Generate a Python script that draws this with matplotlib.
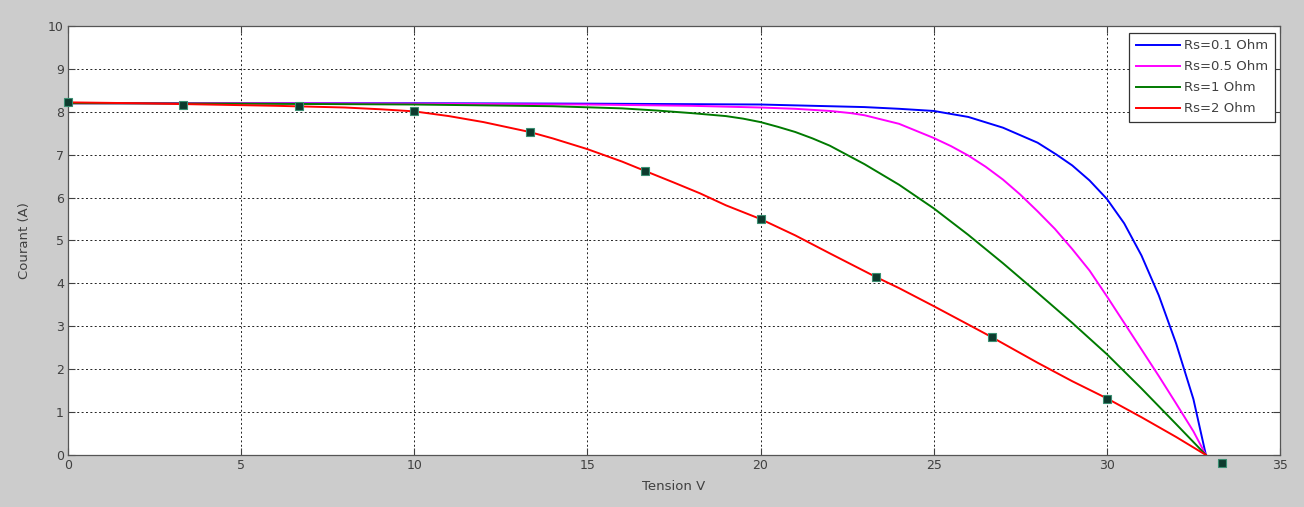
import matplotlib
matplotlib.use("Agg")
import matplotlib.pyplot as plt

plt.rcParams['font.family'] = ['DejaVu Sans']

# Rs = 0.1 Ohm
blue_v = [0, 5, 10, 15, 20, 22, 23, 24, 25, 26, 27, 28, 28.55, 29, 29.5, 30, 30.5, 31, 31.5, 32, 32.5, 32.86]
blue_i = [8.2, 8.2, 8.2, 8.19, 8.17, 8.13, 8.11, 8.07, 8.02, 7.88, 7.63, 7.28, 7.0, 6.75, 6.4, 5.97, 5.4, 4.65, 3.72, 2.6, 1.3, 0.0]
# Rs = 0.5 Ohm
mag_v = [0, 5, 10, 15, 18, 20, 21, 22, 22.6, 23, 24, 25, 25.5, 26, 26.5, 27, 27.5, 28, 28.5, 29, 29.5, 30, 30.5, 31, 31.5, 32, 32.5, 32.86]
mag_i = [8.2, 8.2, 8.19, 8.17, 8.14, 8.1, 8.07, 8.02, 7.97, 7.92, 7.72, 7.39, 7.2, 6.98, 6.72, 6.42, 6.07, 5.68, 5.27, 4.8, 4.3, 3.7, 3.08, 2.46, 1.84, 1.2, 0.55, 0.0]
# Rs = 1 Ohm
green_v = [0, 5, 10, 14, 16, 17, 18, 19, 19.5, 20, 20.5, 21, 21.5, 22, 23, 24, 25, 26, 27, 28, 29, 30, 31, 32, 32.86]
green_i = [8.2, 8.19, 8.17, 8.13, 8.08, 8.03, 7.97, 7.9, 7.84, 7.76, 7.65, 7.53, 7.38, 7.21, 6.78, 6.3, 5.75, 5.13, 4.47, 3.78, 3.08, 2.35, 1.55, 0.72, 0.0]
# Rs = 2 Ohm
red_v = [0, 2, 4, 6, 8, 9, 10, 11, 12, 13.33, 14, 15, 16, 16.67, 17.5, 18.25, 19, 20, 21, 22, 23.33, 24, 25, 26, 26.67, 28, 29, 30, 31, 32, 32.86]
red_i = [8.22, 8.2, 8.17, 8.14, 8.1, 8.06, 8.01, 7.9, 7.76, 7.53, 7.38, 7.13, 6.84, 6.62, 6.35, 6.1, 5.82, 5.5, 5.12, 4.7, 4.15, 3.89, 3.47, 3.04, 2.75, 2.15, 1.72, 1.32, 0.88, 0.42, 0.0]
# square markers
marker_v = [0, 3.33, 6.67, 10, 13.33, 16.67, 20, 23.33, 26.67, 30, 33.33]
marker_i = [8.22, 8.17, 8.13, 8.01, 7.52, 6.62, 5.49, 4.14, 2.75, 1.31, -0.19]

labels = ['Rs=0.1 Ohm', 'Rs=0.5 Ohm', 'Rs=1 Ohm', 'Rs=2 Ohm']
colors = ['#0000ff', '#ff00ff', '#007a00', '#ff0000']
x_ticks = [0, 5, 10, 15, 20, 25, 30, 35]
y_ticks = [0, 1, 2, 3, 4, 5, 6, 7, 8, 9, 10]

fig = plt.figure(figsize=(13.04, 5.07), dpi=100, facecolor='#cccccc')
ax = fig.add_axes([0.0521, 0.1026, 0.9295, 0.8461])
ax.set_facecolor('white')

series = [(blue_v, blue_i), (mag_v, mag_i), (green_v, green_i), (red_v, red_i)]
for (v, i), c, lab in zip(series, colors, labels):
    ax.plot(v, i, color=c, lw=1.4, label=lab, zorder=3, solid_joinstyle='round')

ax.plot(marker_v, marker_i, linestyle='none', marker='s', markersize=5.5,
        markerfacecolor='#0d3b2e', markeredgecolor='#3a8f72', markeredgewidth=0.8,
        clip_on=False, zorder=4)

ax.set_xlim(0, 35)
ax.set_ylim(0, 10)
ax.set_xticks(x_ticks)
ax.set_yticks(y_ticks)
ax.grid(True, color='#222222', linestyle=(0, (2, 2.5)), linewidth=0.7)
ax.tick_params(direction='in', top=True, right=True, length=5, width=0.8,
               labelsize=9, colors='#404040', pad=3)
for s in ax.spines.values():
    s.set_color('#555555')
    s.set_linewidth(0.9)

ax.set_xlabel('Tension V', fontsize=9.5, color='#404040', labelpad=6)
ax.set_ylabel('Courant (A)', fontsize=9.5, color='#404040', labelpad=12)

leg = ax.legend(loc='upper right', bbox_to_anchor=(0.996, 0.984), borderaxespad=0,
                fontsize=9.5, handlelength=3.4, fancybox=False, framealpha=1,
                edgecolor='#333333', labelspacing=0.6, borderpad=0.5, handletextpad=0.3)
leg.get_frame().set_linewidth(0.9)
for t in leg.get_texts():
    t.set_color('#404040')

fig.savefig('out.png', dpi=100, facecolor=fig.get_facecolor())
